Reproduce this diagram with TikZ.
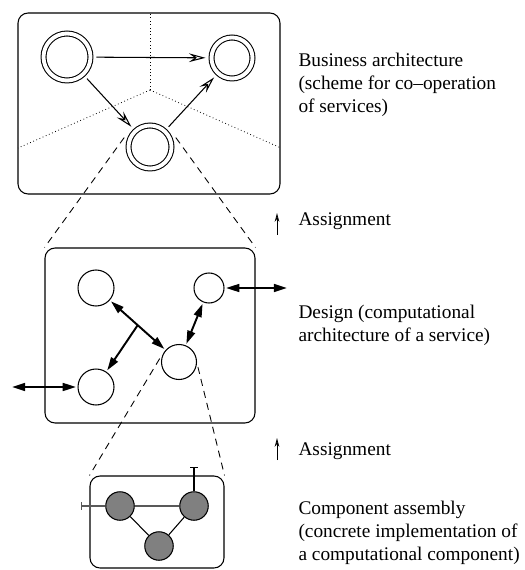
\documentclass[tikz,border=0pt]{standalone}
\usepackage{fontspec}
\setmainfont{Liberation Serif}
\usetikzlibrary{arrows.meta}

\begin{document}
\begin{tikzpicture}[x=0.02cm,y=-0.02cm,line width=0.6pt,
  box/.style={draw,rounded corners=5.7pt,inner sep=0pt},
  role/.style={draw,circle,double,double distance=2.2pt,inner sep=0pt,outer sep=3.4pt},
  comp/.style={draw,circle,inner sep=0pt,outer sep=1.2pt},
  part/.style={draw,circle,fill=gray,inner sep=0pt,minimum size=0.57cm},
  flow/.style={-{Stealth[open,length=9.5pt,width=5pt,inset=3.5pt]}},
  link/.style={{Triangle[length=7.5pt,width=4.5pt]}-{Triangle[length=7.5pt,width=4.5pt]},line width=1.1pt},
  up/.style={-{Stealth[open,length=5pt,width=2.6pt,inset=1.5pt]},line width=0.5pt},
  port/.style={-{Bar[width=4.5pt]}},
  sector/.style={line width=0.45pt,dash pattern=on 0.45pt off 1.5pt},
  zoomline/.style={line width=0.5pt,dash pattern=on 4pt off 3pt},
  txt/.style={anchor=west,align=left,inner sep=0pt,font=\rmfamily\fontsize{11}{13}\selectfont}]
 \useasboundingbox (0,0) rectangle (524,570);

 \node[box,minimum width=5.24cm,minimum height=3.62cm] (top) at (149,103.5) {};
 \node[box,minimum width=4.2cm,minimum height=3.5cm] (mid) at (150,335.5) {};
 \node[box,minimum width=2.68cm,minimum height=1.84cm] (bot) at (157,522) {};

 % business level
 \coordinate (o) at (150,90);
 \coordinate (s0) at (150,13);
 \coordinate (s1) at (18,148);
 \coordinate (s2) at (281,148);
 \draw[sector] (o) -- (s0);
 \draw[sector] (o) -- (s1);
 \draw[sector] (o) -- (s2);
 \node[role,minimum size=0.94cm] (b1) at (67,57) {};
 \node[role,minimum size=0.82cm] (b2) at (232,58) {};
 \node[role,minimum size=0.86cm] (b3) at (150,147) {};
 \draw[flow] (b1) -- (b2);
 \draw[flow] (b1) -- (b3);
 \draw[flow] (b3) -- (b2);
 \draw[zoomline] (b3.160) -- (mid.north west);
 \draw[zoomline] (b3.20) -- (mid.north east);

 % design level
 \node[comp,minimum size=0.72cm] (d1) at (96,288) {};
 \node[comp,minimum size=0.6cm] (d2) at (209,288) {};
 \node[comp,minimum size=0.72cm] (d3) at (96,387) {};
 \node[comp,minimum size=0.7cm] (d4) at (179,362) {};
 \coordinate (e1) at (287,288);
 \coordinate (e2) at (12,387);
 \draw[link] (d1) -- coordinate[midway] (m) (d4);
 \draw[-{Triangle[length=7.5pt,width=4.5pt]},line width=1.1pt] (m) -- (d3);
 \draw[link] (d2) -- (d4);
 \draw[link] (d2) -- (e1);
 \draw[link] (d3) -- (e2);
 \draw[zoomline] (d4.170) -- (bot.north west);
 \draw[zoomline] (d4.-15) -- (bot.north east);

 % component level
 \node[part] (c1) at (120,506) {};
 \node[part] (c2) at (194,506) {};
 \node[part] (c3) at (159,546) {};
 \coordinate (p1) at (81,506);
 \coordinate (p2) at (194,467);
 \draw[gray!70!black] (c1) -- (c2);
 \draw[gray!70!black,port] (c1) -- (p1);
 \draw[port] (c2) -- (p2);
 \draw (c1) -- (c3);
 \draw (c2) -- (c3);

 % labels
 \coordinate (a1) at (277,235);
 \coordinate (a2) at (277,213);
 \coordinate (a3) at (277,460);
 \coordinate (a4) at (277,438);
 \draw[up] (a1) -- (a2);
 \draw[up] (a3) -- (a4);
 \node[txt] (t1) at (298,85) {Business architecture\\(scheme for co–operation\\of services)};
 \node[txt] (t2) at (298,221) {Assignment};
 \node[txt] (t3) at (298,325) {Design (computational\\architecture of a service)};
 \node[txt] (t4) at (298,451) {Assignment};
 \node[txt] (t5) at (298,533) {Component assembly\\(concrete implementation of\\a computational component)};
\end{tikzpicture}
\end{document}
